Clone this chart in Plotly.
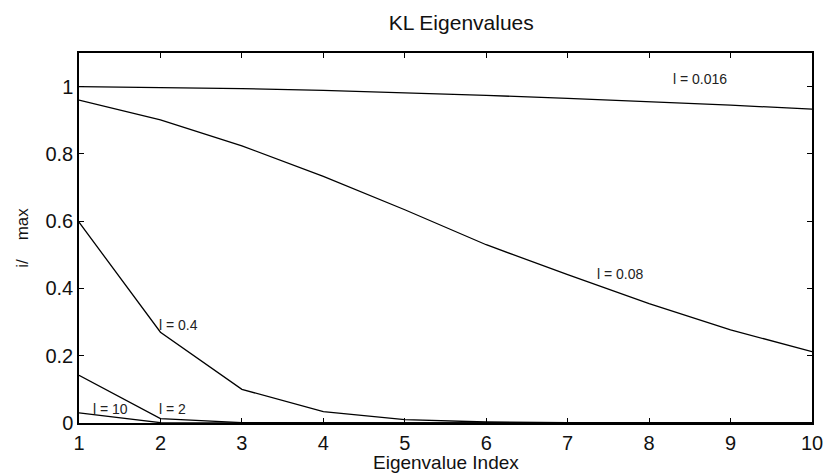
import plotly.graph_objects as go

idx = [1, 2, 3, 4, 5, 6, 7, 8, 9, 10]
l_0016 = [1.0, 0.998, 0.994, 0.989, 0.982, 0.974, 0.965, 0.956, 0.945, 0.933]
l_008 = [0.960, 0.901, 0.824, 0.733, 0.634, 0.530, 0.441, 0.355, 0.277, 0.212]
l_04 = [0.597, 0.270, 0.100, 0.034, 0.010, 0.003, 0.001, 0.0, 0.0, 0.0]
l_2 = [0.142, 0.013, 0.001, 0.0, 0.0, 0.0, 0.0, 0.0, 0.0, 0.0]
l_10 = [0.030, 0.001, 0.0, 0.0, 0.0, 0.0, 0.0, 0.0, 0.0, 0.0]
series = [l_0016, l_008, l_04, l_2, l_10]

label_text = ["l = 0.016", "l = 0.08", "l = 0.4", "l = 2", "l = 10"]
label_x = [8.27, 7.34, 1.96, 1.96, 1.15]
label_y = [1.023, 0.443, 0.29, 0.043, 0.043]

FONT = "Liberation Sans, Arial, Helvetica, sans-serif"

fig = go.Figure()
for s in series:
    fig.add_trace(go.Scatter(x=idx, y=s, mode="lines",
                             line=dict(color="black", width=1.3),
                             showlegend=False, hoverinfo="skip"))

for t, x, y in zip(label_text, label_x, label_y):
    fig.add_annotation(x=x, y=y, text=t, showarrow=False, xanchor="left",
                       yanchor="middle", font=dict(family=FONT, size=14, color="#222"))

# x-axis title as paper-anchored text below the tick labels
fig.add_annotation(x=0.5, y=-0.108, xref="paper", yref="paper", text="Eigenvalue Index",
                   showarrow=False, xanchor="center", yanchor="middle", borderpad=0,
                   font=dict(family=FONT, size=19, color="#111"))

axis_common = dict(showgrid=False, zeroline=False, showline=True, linecolor="black",
                   linewidth=1.5, mirror="ticks", ticks="inside", ticklen=5,
                   tickcolor="black", tickwidth=1, automargin=False,
                   tickfont=dict(family=FONT, size=20, color="#111"))

fig.update_layout(
    width=831, height=473,
    margin=dict(l=79, r=19, t=53, b=50),
    paper_bgcolor="white", plot_bgcolor="white",
    title=dict(text="KL Eigenvalues", x=0.555, xanchor="center", y=0.952, yanchor="middle",
               font=dict(family=FONT, size=21, color="#111")),
    xaxis=dict(range=[1, 10], tickvals=idx, ticklabelstandoff=1, **axis_common),
    yaxis=dict(range=[0, 1.1], tickvals=[0, 0.2, 0.4, 0.6, 0.8, 1],
               ticktext=["0", "0.2", "0.4", "0.6", "0.8", "1"], **axis_common,
               title=dict(text="i/    max", standoff=12,
                          font=dict(family=FONT, size=17, color="#111"))),
)

fig.write_html("out.html")
